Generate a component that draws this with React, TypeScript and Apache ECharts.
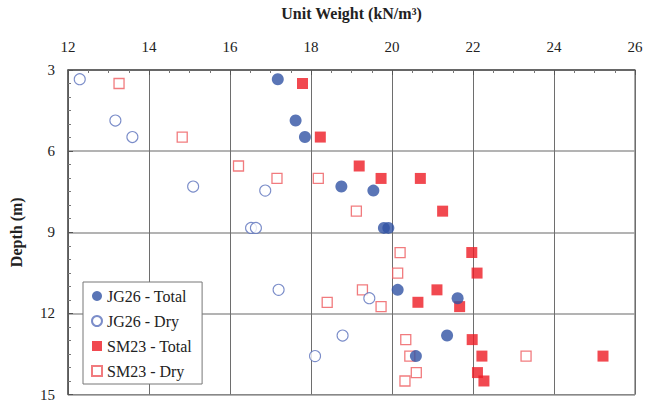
import React, { useEffect, useRef } from "react";
import * as echarts from "echarts";

const xTicks = [12, 14, 16, 18, 20, 22, 24, 26];
const yTicks = [3, 6, 9, 12, 15];

const jg26Total: [number, number][] = [
  [17.18, 3.34], [17.62, 4.87], [17.85, 5.48], [18.75, 7.31], [19.54, 7.46],
  [19.8, 8.84], [19.91, 8.84], [20.14, 11.13], [21.62, 11.44], [21.36, 12.82], [20.59, 13.58],
];
const jg26Dry: [number, number][] = [
  [12.29, 3.34], [13.17, 4.87], [13.59, 5.48], [15.09, 7.31], [16.87, 7.46],
  [16.52, 8.84], [16.64, 8.84], [17.2, 11.13], [19.44, 11.44], [18.78, 12.82], [18.1, 13.58],
];
const sm23Total: [number, number][] = [
  [17.79, 3.5], [18.23, 5.48], [19.19, 6.55], [19.73, 7.01], [20.7, 7.01], [21.25, 8.22],
  [21.97, 9.75], [22.1, 10.51], [21.11, 11.13], [20.64, 11.59], [21.67, 11.75],
  [21.98, 12.97], [22.22, 13.58], [25.21, 13.58], [22.11, 14.19], [22.27, 14.5],
];
const sm23Dry: [number, number][] = [
  [13.26, 3.5], [14.82, 5.48], [16.21, 6.55], [17.16, 7.01], [18.18, 7.01], [19.12, 8.22],
  [20.2, 9.75], [20.14, 10.51], [19.27, 11.13], [18.4, 11.59], [19.73, 11.75],
  [20.34, 12.97], [20.44, 13.58], [23.31, 13.58], [20.6, 14.19], [20.32, 14.5],
];

const FONT = "Liberation Serif";

export default function App() {
  const ref = useRef<HTMLDivElement>(null);
  useEffect(() => {
    if (!ref.current) return;
    const chart = echarts.init(ref.current, undefined, { renderer: "svg" });
    chart.setOption({
      animation: false,
      backgroundColor: "#ffffff",
      textStyle: { fontFamily: FONT },
      grid: {
        left: 64,
        top: 66,
        right: 21,
        bottom: 6,
        show: true,
        borderColor: "#555",
        borderWidth: 1,
        backgroundColor: "transparent",
      },
      legend: {
        orient: "vertical",
        left: 83,
        top: 282,
        itemWidth: 10,
        itemHeight: 10,
        itemGap: 9,
        padding: [6, 10, 5, 8],
        borderColor: "#777",
        borderWidth: 1,
        backgroundColor: "#fff",
        textStyle: { fontFamily: FONT, fontSize: 16, color: "#222" },
        data: ["JG26 - Total", "JG26 - Dry", "SM23 - Total", "SM23 - Dry"],
      },
      xAxis: {
        type: "value",
        position: "top",
        min: xTicks[0],
        max: xTicks[xTicks.length - 1],
        interval: 2,
        name: "Unit Weight (kN/m³)",
        nameLocation: "middle",
        nameGap: 49,
        nameTextStyle: { fontFamily: FONT, fontSize: 16, fontWeight: "bold", color: "#222" },
        axisLine: { show: true, lineStyle: { color: "#555", width: 1.5 } },
        axisTick: { show: true, inside: true, length: 5, lineStyle: { color: "#555" } },
        minorTick: { show: true, splitNumber: 4, length: 3, lineStyle: { color: "#777" } },
        splitLine: { show: true, lineStyle: { color: "#6e6e6e", width: 1 } },
        axisLabel: { fontFamily: FONT, fontSize: 15, color: "#222", margin: 16 },
      },
      yAxis: {
        type: "value",
        inverse: true,
        min: yTicks[0],
        max: yTicks[yTicks.length - 1],
        interval: 3,
        name: "Depth (m)",
        nameLocation: "middle",
        nameRotate: 90,
        nameGap: 44,
        nameTextStyle: { fontFamily: FONT, fontSize: 16, fontWeight: "bold", color: "#222" },
        axisLine: { show: true, lineStyle: { color: "#555", width: 1.5 } },
        axisTick: { show: true, inside: true, length: 5, lineStyle: { color: "#555" } },
        minorTick: { show: true, splitNumber: 6, length: 3, lineStyle: { color: "#777" } },
        splitLine: { show: true, lineStyle: { color: "#9a9a9a", width: 1.5 } },
        axisLabel: { fontFamily: FONT, fontSize: 15, color: "#222", margin: 13 },
      },
      series: [
        {
          name: "SM23 - Dry",
          type: "scatter",
          symbol: "rect",
          symbolSize: 10,
          data: sm23Dry,
          itemStyle: { color: "#ffffff", borderColor: "#ee5a5e", borderWidth: 1.3 },
        },
        {
          name: "JG26 - Dry",
          type: "scatter",
          symbol: "circle",
          symbolSize: 11,
          data: jg26Dry,
          itemStyle: { color: "#ffffff", borderColor: "#5a70bb", borderWidth: 1.1 },
        },
        {
          name: "SM23 - Total",
          type: "scatter",
          symbol: "rect",
          symbolSize: 11,
          data: sm23Total,
          itemStyle: { color: "#ed1c24" },
        },
        {
          name: "JG26 - Total",
          type: "scatter",
          symbol: "circle",
          symbolSize: 12,
          data: jg26Total,
          itemStyle: { color: "#3152a4" },
        },
      ],
    });
    return () => chart.dispose();
  }, []);
  return <div ref={ref} style={{ width: 656, height: 402, position: "absolute", left: 0, top: 0 }} />;
}
